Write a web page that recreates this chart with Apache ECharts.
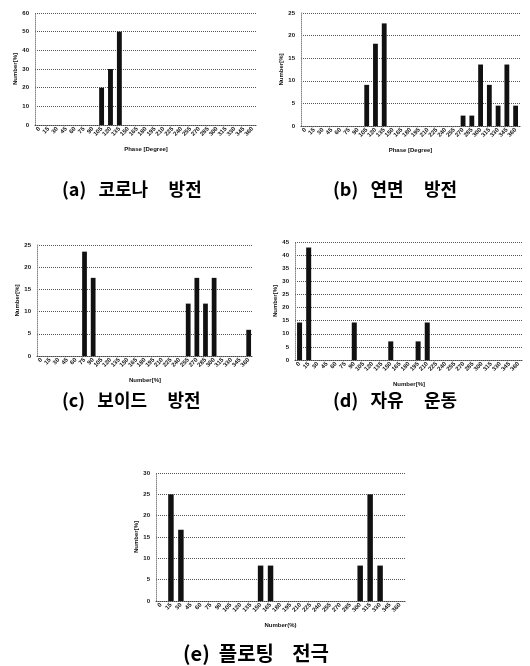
<!DOCTYPE html>
<html>
<head>
<meta charset="utf-8">
<script src="https://cdn.jsdelivr.net/npm/echarts@6/dist/echarts.min.js"></script>
<style>
  html, body { margin: 0; padding: 0; background: #fff; }
  #chart { width: 530px; height: 666px; }
</style>
</head>
<body>
<div id="chart"></div>
<script>
  // phase bins (degree), 25 categories
  var phaseCats = ['0','15','30','45','60','75','90','105','120','135','150','165','180',
    '195','210','225','240','255','270','285','300','315','330','345','360']

  // (a) corona
  var coronaVals = [0,0,0,0,0,0,0,20,30,50,0,0,0,0,0,0,0,0,0,0,0,0,0,0,0]
  // (b) surface
  var surfaceVals = [0,0,0,0,0,0,0,9.1,18.2,22.7,0,0,0,0,0,0,0,0,2.3,2.3,13.6,9.1,4.5,13.6,4.5]
  // (c) void
  var voidVals = [0,0,0,0,0,23.5,17.6,0,0,0,0,0,0,0,0,0,0,11.8,17.6,11.8,17.6,0,0,0,5.9]
  // (d) free particle
  var freeVals = [14.3,42.9,0,0,0,0,14.3,0,0,0,7.1,0,0,7.1,14.3,0,0,0,0,0,0,0,0,0,0]
  // (e) floating electrode
  var floatVals = [0,25,16.7,0,0,0,0,0,0,0,8.3,8.3,0,0,0,0,0,0,0,0,8.3,25,8.3,0,0]

  var captions = ['(a)   코로나     방전', '(b)   연면     방전', '(c)   보이드     방전',
    '(d)   자유     운동', '(e)  플로팅    전극']
  var xNames = ['Phase [Degree]', 'Phase [Degree]', 'Number[%]', 'Number[%]', 'Number(%)']
  var yName = 'Number[%]'
  var yMax = [60, 25, 25, 45, 30]
  var yStep = [10, 5, 5, 5, 5]
  var seriesData = [coronaVals, surfaceVals, voidVals, freeVals, floatVals]

  var grids = [
    {left: 35, top: 13, width: 222, height: 112},
    {left: 301, top: 13, width: 219, height: 113},
    {left: 37, top: 245, width: 216, height: 111},
    {left: 295, top: 242, width: 228, height: 118},
    {left: 156, top: 473, width: 249, height: 128}
  ]
  var capPos = [[57, 175], [328, 175], [57, 386], [328, 386], [178, 638]]
  var capSize = [18, 18, 18, 18, 20]

  var chart = echarts.init(document.getElementById('chart'))
  var xAxes = [], yAxes = [], series = [], titles = []
  for (var i = 0; i < 5; i++) {
    xAxes.push({
      type: 'category', gridIndex: i, data: phaseCats,
      name: xNames[i], nameLocation: 'middle', nameGap: 21,
      nameTextStyle: {fontSize: 6, fontWeight: 'bold', color: '#111'},
      axisLine: {lineStyle: {color: '#444', type: 'dotted'}},
      axisTick: {show: false},
      axisLabel: {rotate: 45, fontSize: 6, fontWeight: 'bold', color: '#111', margin: 3, interval: 0}
    })
    yAxes.push({
      type: 'value', gridIndex: i, min: 0, max: yMax[i], interval: yStep[i],
      name: yName, nameLocation: 'middle', nameGap: 16,
      nameTextStyle: {fontSize: 6, fontWeight: 'bold', color: '#111'},
      axisLine: {show: true, lineStyle: {color: '#888', type: 'dotted'}},
      axisTick: {show: false},
      axisLabel: {fontSize: 6, fontWeight: 'bold', color: '#111', margin: 6},
      splitLine: {lineStyle: {color: '#555', type: 'dotted', width: 1}}
    })
    series.push({
      type: 'bar', xAxisIndex: i, yAxisIndex: i, data: seriesData[i],
      barWidth: '55%', itemStyle: {color: '#111'}, silent: true
    })
    titles.push({
      text: captions[i], left: capPos[i][0], top: capPos[i][1],
      textStyle: {fontSize: capSize[i], fontWeight: 'bold', color: '#000', fontFamily: 'Noto Sans CJK KR'}
    })
  }

  chart.setOption({
    animation: false,
    title: titles,
    grid: grids,
    xAxis: xAxes,
    yAxis: yAxes,
    series: series
  })
</script>
</body>
</html>
